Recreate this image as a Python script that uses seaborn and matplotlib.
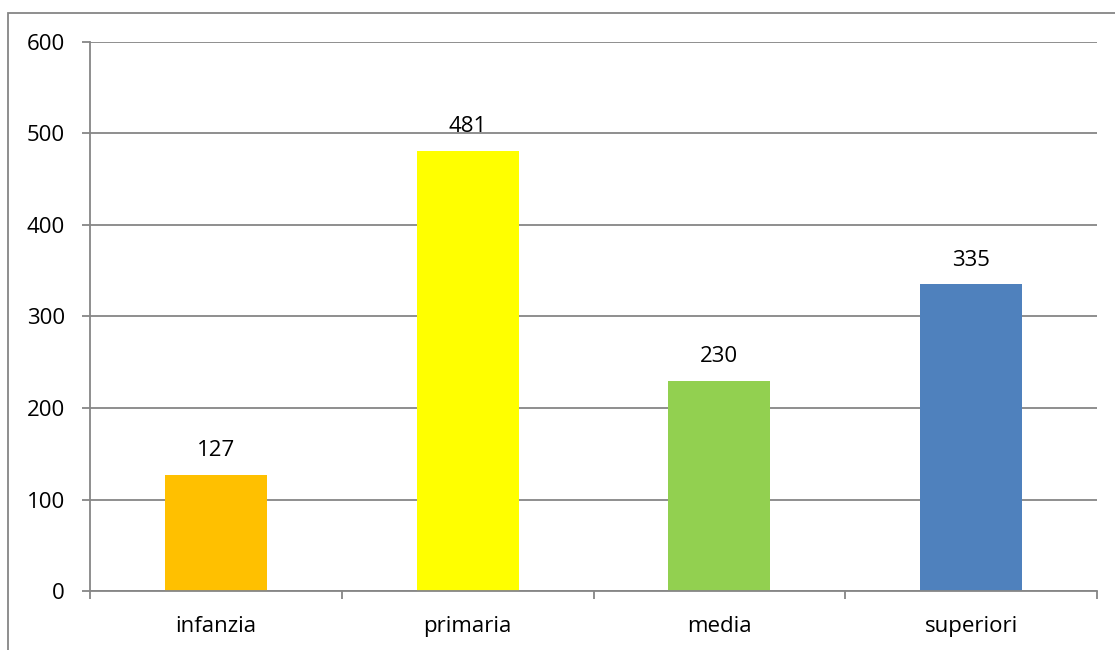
import matplotlib
matplotlib.use("Agg")
import matplotlib.pyplot as plt
import seaborn as sns
import pandas as pd
from matplotlib.patches import Rectangle

categories = ["infanzia", "primaria", "media", "superiori"]
values = [127, 481, 230, 335]
colors = ["#FFC000", "#FFFF00", "#92D050", "#4F81BD"]
yticks = [0, 100, 200, 300, 400, 500, 600]

sns.set_theme(style="white")
plt.rcParams['font.family'] = ['Open Sans', 'DejaVu Sans']
plt.rcParams['text.color'] = 'black'
plt.rcParams['xtick.color'] = 'black'
plt.rcParams['ytick.color'] = 'black'

df = pd.DataFrame({"cat": categories, "val": values})

fig = plt.figure(figsize=(11.15, 6.5), dpi=100)
ax = fig.add_axes([90/1115, 59/650, (1097-90)/1115, (591-42)/650])

sns.barplot(data=df, x="cat", y="val", hue="cat", palette=colors, legend=False,
            width=0.405, ax=ax, saturation=1, linewidth=0)

gray = "#868686"
fs = 16
ax.set_ylim(0, 600)
ax.set_xlim(-0.5, 3.5)
ax.set_yticks(yticks)
ax.set_yticklabels([str(t) for t in yticks], fontsize=fs)
ax.yaxis.grid(True, color=gray, linewidth=1.3)
ax.set_axisbelow(True)
ax.set_xticks([0, 1, 2, 3])
ax.set_xticklabels(categories, fontsize=fs)
ax.set_xticks([-0.5, 0.5, 1.5, 2.5, 3.5], minor=True)
ax.tick_params(axis='x', which='both', bottom=True)
ax.tick_params(axis='y', which='both', left=True)
ax.tick_params(axis='x', which='major', length=0, pad=18, labelcolor='black')
ax.tick_params(axis='x', which='minor', length=5.5, width=1.3, color=gray, direction='out')
ax.tick_params(axis='y', which='major', length=6, width=1.3, color=gray, direction='out',
               pad=12, labelcolor='black')
ax.set_xlabel("")
ax.set_ylabel("")
for side in ["top", "right"]:
    ax.spines[side].set_visible(False)
for side in ["left", "bottom"]:
    ax.spines[side].set_color(gray)
    ax.spines[side].set_linewidth(1.3)

for c in ax.containers:
    ax.bar_label(c, labels=[f"{v:.0f}" for v in c.datavalues], padding=10,
                 fontsize=fs, color='black')

fig.patches.append(Rectangle((8/1115, -0.1), 1.2, (650-13)/650 + 0.1,
                             transform=fig.transFigure, fill=False,
                             edgecolor=gray, linewidth=1.3))

fig.savefig("out.png", dpi=100)
